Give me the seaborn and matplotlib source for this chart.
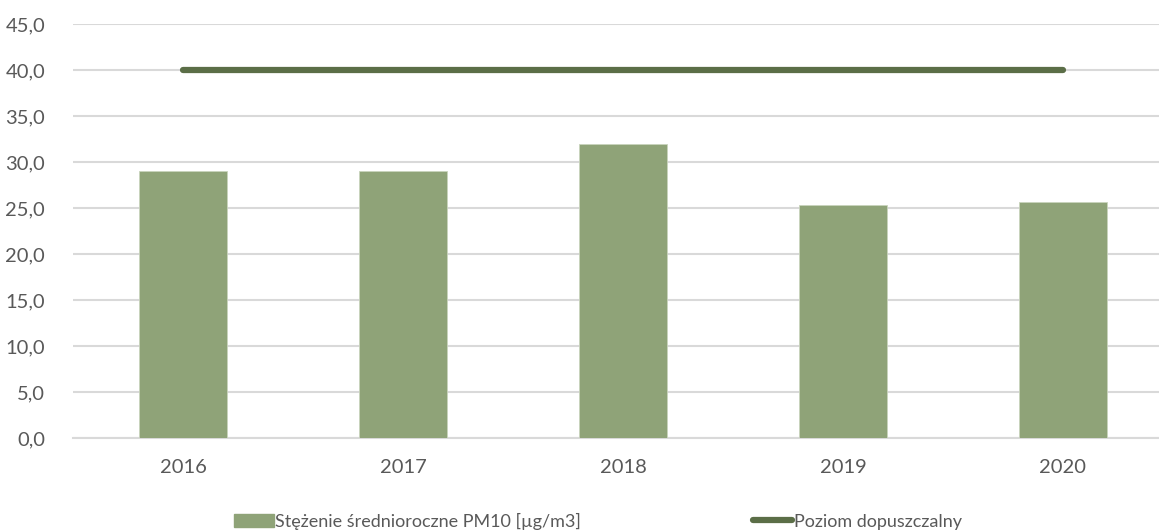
import matplotlib
matplotlib.use("Agg")
import matplotlib.pyplot as plt
import seaborn as sns
import pandas as pd
import numpy as np
from matplotlib.patches import Patch
from matplotlib.lines import Line2D

years = ["2016", "2017", "2018", "2019", "2020"]
pm10 = [29.0, 29.0, 32.0, 25.3, 25.7]
limit = [40.0, 40.0, 40.0, 40.0, 40.0]
yticks = [0, 5, 10, 15, 20, 25, 30, 35, 40, 45]

bar_label = "Stężenie średnioroczne PM10 [µg/m3]"
line_label = "Poziom dopuszczalny"

sns.set_theme(style="white")
plt.rcParams['font.family'] = ['Lato', 'DejaVu Sans']

bar_color = "#8fa378"
line_color = "#5b6e47"
text_color = "#595959"
grid_color = "#d9d9d9"

fig = plt.figure(figsize=(11.59, 5.31), dpi=100)
ax = fig.add_axes([73/1159, 1-438/531, 1100/1159, (438-24)/531])

df = pd.DataFrame({"year": years, "pm10": pm10})
sns.barplot(data=df, x="year", y="pm10", color=bar_color, saturation=1,
            width=0.4, edgecolor="#c9d4bd", linewidth=0.6, ax=ax, zorder=3)
sns.lineplot(x=np.arange(len(years)), y=limit, color=line_color, linewidth=4.5,
             ax=ax, zorder=4, solid_capstyle="round")

ax.set_xlim(-0.5, len(years) - 0.5)
ax.set_ylim(0, 45)
ax.set_yticks(yticks)
ax.set_yticklabels([f"{v:.1f}".replace(".", ",") for v in yticks])
ax.set_xlabel("")
ax.set_ylabel("")
ax.yaxis.grid(True, color=grid_color, linewidth=1.5, zorder=0)
ax.set_axisbelow(True)
for s in ["top", "right", "left"]:
    ax.spines[s].set_visible(False)
ax.spines["bottom"].set_color(grid_color)
ax.spines["bottom"].set_linewidth(1.5)
ax.tick_params(axis="both", length=0, labelsize=14.5, colors=text_color)
ax.tick_params(axis="y", pad=20)
ax.tick_params(axis="x", pad=15)

handles = [Patch(facecolor=bar_color, edgecolor=bar_color),
           Line2D([0], [0], color=line_color, linewidth=4.5, solid_capstyle="round")]
leg = fig.legend(handles, [bar_label, line_label], loc="center", ncol=2,
                 bbox_to_anchor=(0.516, 1-521/531), frameon=False, fontsize=13,
                 labelcolor=text_color, handlelength=2.2, handletextpad=0.1,
                 columnspacing=9.5, handleheight=0.7)

fig.savefig("out.png", dpi=100)
